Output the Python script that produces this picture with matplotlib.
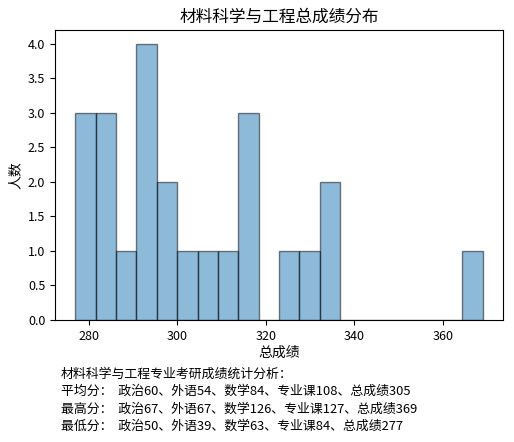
import matplotlib
matplotlib.use("Agg")
import matplotlib.pyplot as plt
import numpy as np

plt.rcParams["font.family"] = ["Noto Sans CJK SC", "DejaVu Sans"]
plt.rcParams["axes.unicode_minus"] = False

# histogram of total scores: 20 bins between min and max
score_min = 277
score_max = 369
n_bins = 20
counts = [3, 3, 1, 4, 2, 1, 1, 1, 3, 0, 1, 1, 2, 0, 0, 0, 0, 0, 0, 1]

title = "材料科学与工程总成绩分布"
xlabel = "总成绩"
ylabel = "人数"
summary_lines = [
    "材料科学与工程专业考研成绩统计分析：",
    "平均分：  政治60、外语54、数学84、专业课108、总成绩305",
    "最高分：  政治67、外语67、数学126、专业课127、总成绩369",
    "最低分：  政治50、外语39、数学63、专业课84、总成绩277",
]

edges = np.linspace(score_min, score_max, n_bins + 1)
centers = (edges[:-1] + edges[1:]) / 2

fig = plt.figure(figsize=(5.14, 4.42), dpi=100)
ax = fig.add_axes([0.107, 0.276, 0.872, 0.656])
ax.hist(centers, bins=edges, weights=counts, color="C0", alpha=0.5, edgecolor="black")
ax.set_title(title, fontsize=12)
ax.set_xlabel(xlabel, fontsize=10, labelpad=2)
ax.set_ylabel(ylabel, fontsize=10)
ax.tick_params(labelsize=9)
ax.set_yticks(np.arange(0, 4.01, 0.5))

y = 0.153
for line in summary_lines:
    fig.text(0.118, y, line, fontsize=9.3, va="center")
    y -= 0.039

fig.savefig("out.png", dpi=100)
